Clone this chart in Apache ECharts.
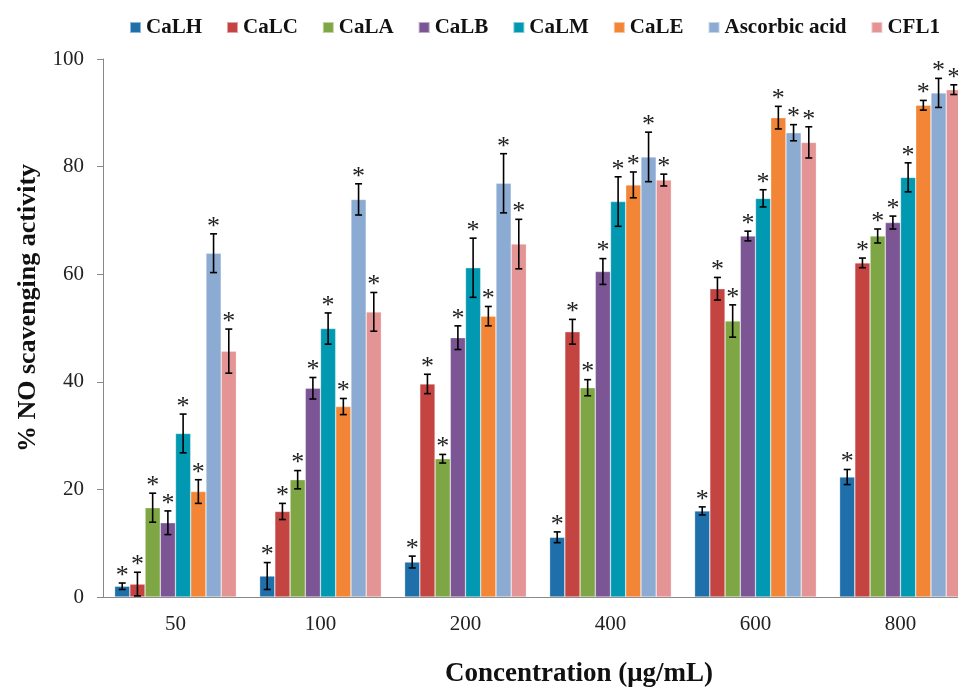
<!DOCTYPE html>
<html>
<head>
<meta charset="utf-8">
<script src="https://cdn.jsdelivr.net/npm/echarts@6/dist/echarts.min.js"></script>
<style>
  html, body { margin: 0; padding: 0; background: #fff; }
  #chart { width: 958px; height: 691px; }
</style>
</head>
<body>
<div id="chart"></div>
<script>
var categories = ['50', '100', '200', '400', '600', '800']
var seriesNames = ['CaLH', 'CaLC', 'CaLA', 'CaLB', 'CaLM', 'CaLE', 'Ascorbic acid', 'CFL1']
var colors = ['#1f6fab', '#c44442', '#7ea644', '#7b5594', '#0099b1', '#f28536', '#8babd2', '#e59495']

// mean values per series, one per concentration
var calh = [2.0, 3.9, 6.5, 11.1, 16.0, 22.3]
var calc = [2.4, 15.9, 39.6, 49.3, 57.3, 62.1]
var cala = [16.6, 21.8, 25.7, 38.9, 51.3, 67.1]
var calb = [13.8, 38.8, 48.2, 60.5, 67.1, 69.6]
var calm = [30.4, 49.9, 61.2, 73.5, 74.1, 78.0]
var cale = [19.6, 35.4, 52.2, 76.6, 89.1, 91.4]
var ascorbic = [63.9, 73.9, 76.9, 81.8, 86.3, 93.7]
var cfl1 = [45.7, 53.0, 65.6, 77.5, 84.5, 94.3]

// error (± SD)
var calhErr = [0.6, 2.5, 1.1, 1.0, 0.75, 1.4]
var calcErr = [2.2, 1.5, 1.8, 2.3, 2.1, 0.9]
var calaErr = [2.7, 1.7, 0.8, 1.5, 3.0, 1.3]
var calbErr = [2.2, 2.0, 2.2, 2.4, 0.9, 1.2]
var calmErr = [3.6, 2.9, 5.5, 4.6, 1.6, 2.7]
var caleErr = [2.2, 1.5, 1.8, 2.4, 2.1, 0.9]
var ascorbicErr = [3.6, 2.9, 5.5, 4.6, 1.5, 2.7]
var cfl1Err = [4.1, 3.6, 4.6, 1.1, 2.9, 0.9]

var values = [calh, calc, cala, calb, calm, cale, ascorbic, cfl1]
var errors = [calhErr, calcErr, calaErr, calbErr, calmErr, caleErr, ascorbicErr, cfl1Err]

var CAT_GAP = 0.16
var serifFont = '"Liberation Serif", "Times New Roman", serif'

function errRenderer(k) {
  return function (params, api) {
    var c = api.value(0)
    var v = api.value(1)
    var e = api.value(2)
    var bandW = api.size([1, 0])[0]
    var used = bandW * (1 - CAT_GAP)
    var barW = used / values.length
    var center = api.coord([c, v])[0]
    var x = center - used / 2 + barW * (k + 0.5)
    var yt = api.coord([c, v + e])[1]
    var yb = api.coord([c, v - e])[1]
    var cap = 3.5
    var st = { stroke: '#000', lineWidth: 1.6 }
    return {
      type: 'group',
      children: [
        { type: 'line', shape: { x1: x, y1: yt, x2: x, y2: yb }, style: st },
        { type: 'line', shape: { x1: x - cap, y1: yt, x2: x + cap, y2: yt }, style: st },
        { type: 'line', shape: { x1: x - cap, y1: yb, x2: x + cap, y2: yb }, style: st },
        {
          type: 'text',
          style: {
            text: '*',
            x: x,
            y: yt + 6,
            align: 'center',
            verticalAlign: 'bottom',
            textAlign: 'center',
            textVerticalAlign: 'bottom',
            font: '26px ' + serifFont,
            fill: '#222'
          }
        }
      ]
    }
  }
}

var series = []
for (var i = 0; i < seriesNames.length; i++) {
  series.push({
    name: seriesNames[i],
    type: 'bar',
    barGap: 0,
    barCategoryGap: (CAT_GAP * 100) + '%',
    itemStyle: { color: colors[i], borderColor: 'rgba(255,255,255,0.5)', borderWidth: 0.6 },
    data: values[i]
  })
}
for (var k = 0; k < seriesNames.length; k++) {
  var d = []
  for (var j = 0; j < categories.length; j++) {
    d.push([j, values[k][j], errors[k][j]])
  }
  series.push({
    name: seriesNames[k],
    type: 'custom',
    renderItem: errRenderer(k),
    data: d,
    z: 10,
    silent: true
  })
}

var chart = echarts.init(document.getElementById('chart'))
chart.setOption({
  animation: false,
  color: colors,
  legend: {
    data: seriesNames,
    left: 129,
    top: 17,
    padding: 0,
    itemWidth: 11,
    itemHeight: 11,
    itemGap: 24,
    icon: 'rect',
    textStyle: { fontFamily: serifFont, fontWeight: 'bold', fontSize: 21, color: '#111' }
  },
  grid: { left: 103, right: -15, top: 59, bottom: 94, outerBoundsMode: 'none', containLabel: false },
  xAxis: {
    type: 'category',
    data: categories,
    name: 'Concentration (μg/mL)',
    nameLocation: 'middle',
    nameGap: 64,
    nameTextStyle: { fontFamily: serifFont, fontWeight: 'bold', fontSize: 27, color: '#111', padding: [0, 0, 0, 82] },
    axisLine: { lineStyle: { color: '#888' } },
    axisTick: { length: 8, lineStyle: { color: '#888' } },
    axisLabel: { margin: 17, fontFamily: serifFont, fontSize: 21, color: '#222' }
  },
  yAxis: {
    type: 'value',
    min: 0,
    max: 100,
    interval: 20,
    name: '% NO scavenging activity',
    nameLocation: 'middle',
    nameGap: 62,
    nameTextStyle: { fontFamily: serifFont, fontWeight: 'bold', fontSize: 26, color: '#111', padding: [0, 0, 0, 40] },
    splitLine: { show: false },
    axisLine: { show: true, lineStyle: { color: '#888' } },
    axisTick: { show: true, length: 6, lineStyle: { color: '#888' } },
    axisLabel: { margin: 19, fontFamily: serifFont, fontSize: 21, color: '#222' }
  },
  series: series
})
</script>
</body>
</html>
